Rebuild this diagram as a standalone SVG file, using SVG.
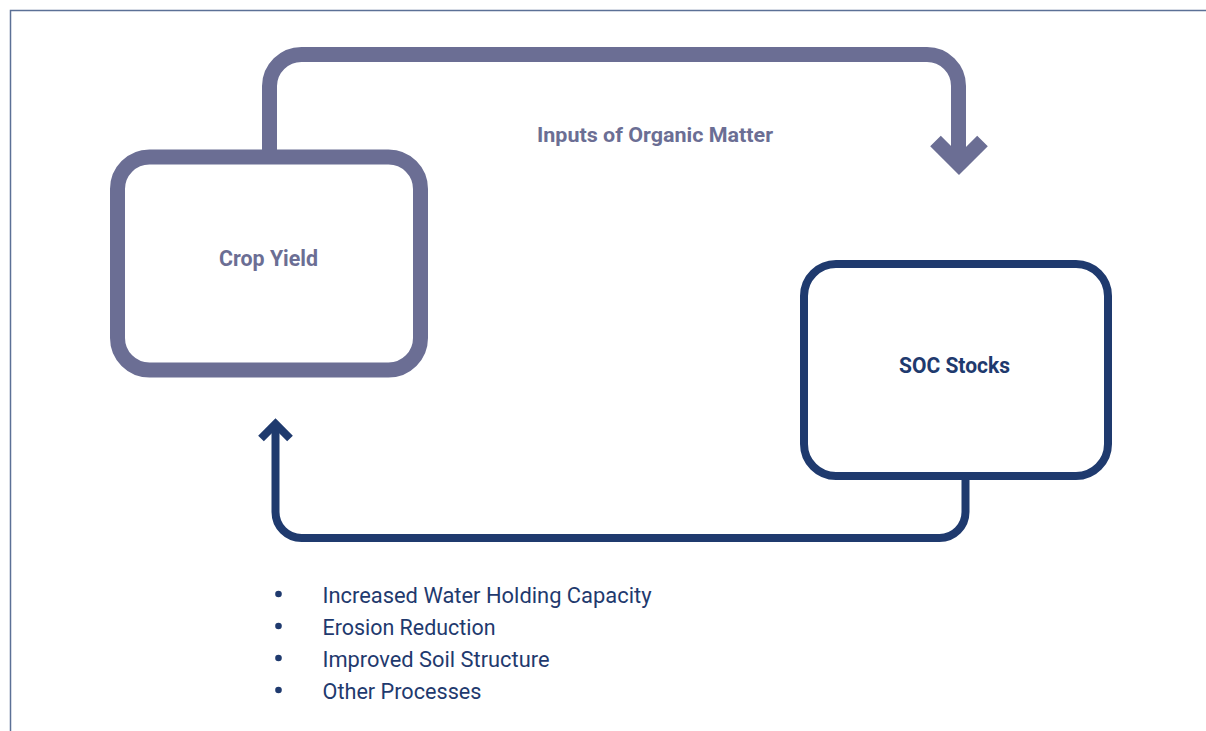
<svg xmlns="http://www.w3.org/2000/svg" width="1206" height="731" viewBox="0 0 1206 731">
<style>
.frame{fill:none;stroke:#5b7096;stroke-width:1.5}
.p{fill:none;stroke:#6b6e94;stroke-width:15}
.n{fill:none;stroke:#1f3a6e;stroke-width:8}
.lblP{font-family:Roboto,"Liberation Sans",sans-serif;font-weight:bold;fill:#6b6e94}
.lblN{font-family:Roboto,"Liberation Sans",sans-serif;font-weight:bold;fill:#1f3a6e}
.item{font-family:Roboto,"Liberation Sans",sans-serif;fill:#1f3a6e;font-size:22px}
</style>
<rect width="1206" height="731" fill="#ffffff"/>
<path class="frame" d="M10.5,731 V10.5 H1206"/>
<g id="connectors">
  <path class="p" d="M269.5,157 V86 A32,32 0 0 1 301.5,54.5 H927 A31.5,31.5 0 0 1 958.5,86 V160"/>
  <path class="p" stroke-linejoin="miter" d="M935.5,141 L959,164.5 L982.5,141"/>
  <path class="n" d="M965.5,476 V512 A26,26 0 0 1 939.5,538 H301.5 A26,26 0 0 1 275.5,512 V424"/>
  <path class="n" stroke-linejoin="miter" d="M261,438.5 L275.5,424 L290,438.5"/>
  <text class="lblP" x="537" y="141.5" font-size="20" textLength="236" lengthAdjust="spacingAndGlyphs">Inputs of Organic Matter</text>
</g>
<g id="crop-yield">
  <rect class="p" x="117.5" y="157" width="303" height="213" rx="32" ry="32" fill="#ffffff"/>
  <text class="lblP" x="219" y="265.5" font-size="22" textLength="99" lengthAdjust="spacingAndGlyphs">Crop Yield</text>
</g>
<g id="soc-stocks">
  <rect class="n" x="804" y="264" width="304" height="212" rx="32" ry="32" fill="#ffffff"/>
  <text class="lblN" x="899" y="373" font-size="22" textLength="111" lengthAdjust="spacingAndGlyphs">SOC Stocks</text>
</g>
<g id="benefits">
  <circle cx="278.5" cy="594" r="3.3" fill="#1f3a6e"/>
  <circle cx="278.5" cy="626" r="3.3" fill="#1f3a6e"/>
  <circle cx="278.5" cy="658" r="3.3" fill="#1f3a6e"/>
  <circle cx="278.5" cy="690" r="3.3" fill="#1f3a6e"/>
  <text class="item" x="322.5" y="603" textLength="329" lengthAdjust="spacingAndGlyphs">Increased Water Holding Capacity</text>
  <text class="item" x="322.5" y="635" textLength="173" lengthAdjust="spacingAndGlyphs">Erosion Reduction</text>
  <text class="item" x="322.5" y="667" textLength="227" lengthAdjust="spacingAndGlyphs">Improved Soil Structure</text>
  <text class="item" x="322.5" y="699" textLength="159" lengthAdjust="spacingAndGlyphs">Other Processes</text>
</g>
</svg>
